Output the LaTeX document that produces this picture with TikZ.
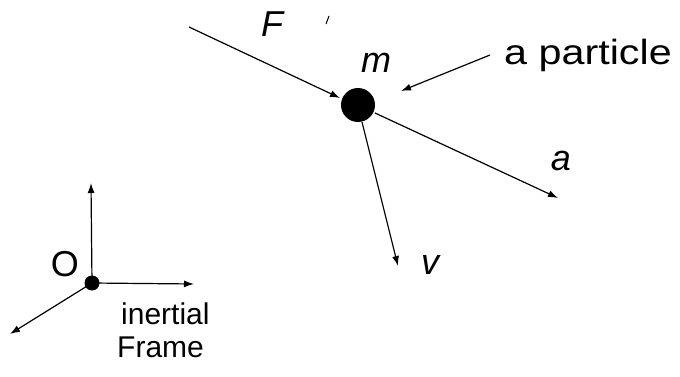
\documentclass[tikz,border=0pt]{standalone}
\usepackage{fontspec}
\setmainfont{Liberation Sans}
\usetikzlibrary{arrows.meta}
\tikzset{
  vec/.style={line width=1.2pt, -{Latex[length=10pt,width=7pt]}},
  sym/.style={font=\fontsize{36}{40}\selectfont\itshape, inner sep=0pt},
  lbl/.style={font=\fontsize{30}{34}\selectfont, inner sep=0pt},
}
\begin{document}
\begin{tikzpicture}[x=1pt,y=-1pt]
\useasboundingbox (0,0) rectangle (680,377);
% particle
\fill (358,105) circle (17);
\node (P) at (358,105) [circle, minimum size=34pt, inner sep=0pt] {};
\coordinate (Fs) at (189,27);
\coordinate (Ft) at (340,98);
\draw[vec] (Fs) -- (Ft);
\node[sym] (F) at (272,24) {F};
\node[sym] (m) at (376,63) {m};
% stray mark
\coordinate (k1) at (329,16);
\coordinate (k2) at (326,24);
\draw[line width=1pt] (k1) -- (k2);
% a particle
\coordinate (ps) at (490,55);
\coordinate (pt) at (401,91);
\draw[vec] (ps) -- (pt);
\node[lbl, font=\fontsize{35}{40}\selectfont, anchor=west, xscale=1.18] (lab) at (504,55) {a particle};
% acceleration
\coordinate (as) at (375,113);
\coordinate (at) at (558,198);
\draw[vec] (as) -- (at);
\node[sym] (a) at (561,161) {a};
% velocity
\coordinate (vs) at (362,122);
\coordinate (vt) at (398,266);
\draw[vec] (vs) -- (vt);
\node[sym] (v) at (430,265) {v};
% frame
\fill (92,283) circle (7.5);
\node (O0) at (92,283) [circle, minimum size=15pt, inner sep=0pt] {};
\coordinate (up) at (91,183);
\coordinate (rt) at (194,284);
\coordinate (dl) at (10,334);
\draw[vec] (O0.center) -- (up);
\draw[vec] (O0.center) -- (rt);
\draw[vec] (O0.center) -- (dl);
\node[lbl, font=\fontsize{36}{40}\selectfont] (O) at (65,264) {O};
\node[lbl, anchor=west] (in) at (121,314) {inertial};
\node[lbl, anchor=west] (fr) at (117,347) {Frame};
\end{tikzpicture}
\end{document}
